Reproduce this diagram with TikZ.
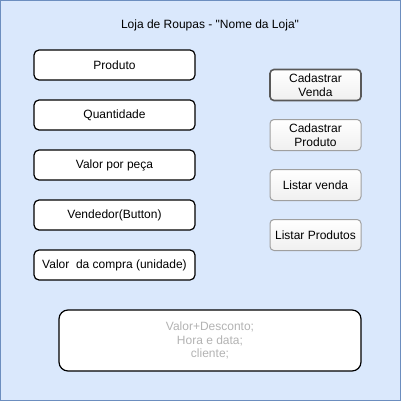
\documentclass[tikz,border=0pt]{standalone}
\usepackage{fontspec}
\setmainfont{Liberation Sans}[Ligatures=TeXOff]
\usepackage{xcolor}
\usepackage{tikz}
\usetikzlibrary{positioning}
\definecolor{fundo}{HTML}{DAE8FC}
\definecolor{borda}{HTML}{6C8EBF}
\definecolor{textoclaro}{HTML}{B3B3B3}
\tikzstyle{campo} = [rectangle, rounded corners=5pt, minimum width=161pt, minimum height=30pt, text centered, draw=black, line width=1.2pt, fill=white, outer sep=0pt]
\tikzstyle{botao} = [rectangle, rounded corners=4pt, minimum width=91pt, minimum height=31pt, text centered, align=center, draw=gray!75, line width=1pt, top color=white, bottom color=gray!12, inner sep=1pt, outer sep=0pt]
\tikzstyle{resumo} = [rectangle, rounded corners=9pt, minimum width=302pt, minimum height=61pt, align=center, draw=black, line width=1.2pt, fill=white, text=textoclaro]

\begin{document}
\begin{tikzpicture}[x=1pt, y=-1pt, node distance=20pt, font=\fontsize{12}{14}\selectfont]
    \useasboundingbox (0,0) rectangle (401,401);
    % Tela
    \draw [fill=fundo, draw=borda, line width=1pt] (0.5,0.5) rectangle (400.5,400.5);
    \node (titulo) at (210,25) {Loja de Roupas - "Nome da Loja"};

    % Campos
    \node (produto) [campo] at (114.5,65) {Produto};
    \node (quantidade) [campo, below=of produto] {Quantidade};
    \node (valorpeca) [campo, below=of quantidade] {Valor por peça};
    \node (vendedor) [campo, below=of valorpeca] {Vendedor(Button)};
    \node (valorcompra) [campo, below=of vendedor] {Valor\ \ da compra (unidade)};

    % Botoes
    \node (cadvenda) [botao, draw=black!65, line width=1.6pt] at (315.5,85) {Cadastrar\\Venda};
    \node (cadproduto) [botao, below=19pt of cadvenda] {Cadastrar\\Produto};
    \node (listvenda) [botao, below=19pt of cadproduto] {Listar venda};
    \node (listprodutos) [botao, below=19pt of listvenda] {Listar Produtos};

    % Resumo
    \node (resumo) [resumo, font=\fontsize{12}{13.5}\selectfont] at (210,340.5) {Valor+Desconto;\\Hora e data;\\cliente;};
\end{tikzpicture}
\end{document}
